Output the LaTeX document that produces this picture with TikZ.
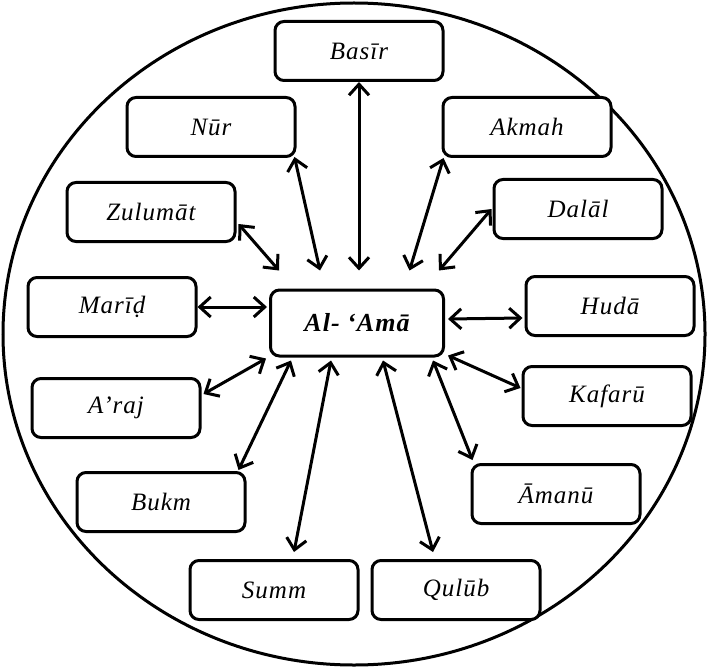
\documentclass[tikz,border=0pt]{standalone}
\usepackage{fontspec}
\setmainfont{Liberation Serif}[LetterSpace=4]
\usetikzlibrary{arrows.meta,calc}
\begin{document}
\begin{tikzpicture}[x=1pt,y=-1pt,
  box/.style={draw, line width=3pt, rounded corners=9pt, minimum width=168pt,
    minimum height=59pt, inner sep=0pt, fill=white,
    font=\fontsize{25}{29}\selectfont\itshape},
  hub/.style={box, minimum width=173pt, minimum height=66pt,
    font=\fontsize{26}{30}\selectfont\bfseries\itshape},
  link/.style={line width=3pt,
    {Straight Barb[length=11pt,width=20pt]}-{Straight Barb[length=11pt,width=20pt]}}]
\useasboundingbox (0,0) rectangle (708,668);
\draw[line width=3pt] (354,334) ellipse [x radius=351pt, y radius=331pt];

\node[hub] (c) at (357,323) {Al- ‘Amā};
\node[box] (basir)  at (359,51)  {Basīr};
\node[box] (nur)    at (211,127) {Nūr};
\node[box] (akmah)  at (527,127) {Akmah};
\node[box] (zulumat) at (151,212) {Zulumāt};
\node[box] (dalal)  at (578,209) {Dalāl};
\node[box] (marid)  at (112,307) {Marīḍ};
\node[box] (huda)   at (610,306) {Hudā};
\node[box] (araj)   at (116,408) {A’raj};
\node[box] (kafaru) at (607,396) {Kafarū};
\node[box] (bukm)   at (161,502) {Bukm};
\node[box] (amanu)  at (556,494) {Āmanū};
\node[box] (summ)   at (274,590) {Summ};
\node[box] (qulub)  at (456,590) {Qulūb};

\draw[link] (basir.south) -- ($(c.north)+(2,-18)$);
\draw[link] ($(nur.south east)+(-2,-1)$) -- ($(c.north west)+(51,-18)$);
\draw[link] ($(akmah.south west)+(2,0)$) -- ($(c.north east)+(-35.5,-18)$);
\draw[link] ($(zulumat.east)+(2,12)$) -- ($(c.north west)+(10,-18)$);
\draw[link] ($(dalal.west)+(-1,0)$) -- ($(c.north east)+(-6,-18)$);
\draw[link] (marid.east) -- ($(c.west)+(-2,-16)$);
\draw[link] ($(c.east)+(3,-4)$) -- ($(huda.west)+(-2,12)$);
\draw[link] ($(araj.north east)+(2,17)$) -- ($(c.south west)+(-3,1)$);
\draw[link] ($(c.south east)+(3,-2)$) -- ($(kafaru.west)+(-1,-8)$);
\draw[link] ($(c.south east)+(-12,3)$) -- ($(amanu.north west)+(2,-3)$);
\draw[link] ($(c.south)+(26,3)$) -- ($(qulub.north)+(-23,-7)$);
\draw[link] ($(c.south)+(-26,3)$) -- ($(summ.north)+(20,-7)$);
\draw[link] ($(c.south west)+(22,3)$) -- ($(bukm.north east)+(-8,-1)$);
\end{tikzpicture}
\end{document}
